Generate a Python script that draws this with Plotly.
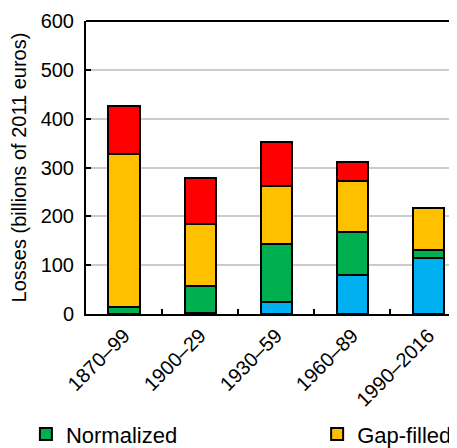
import plotly.graph_objects as go

categories = ["1870–99", "1900–29", "1930–59", "1960–89", "1990–2016"]
blue_vals = [0, 3, 25, 80, 115]
normalized_vals = [14, 55, 119, 87, 17]
gapfilled_vals = [314, 127, 118, 106, 86]
red_vals = [97, 93, 90, 38, 0]
y_ticks = [0, 100, 200, 300, 400, 500, 600]

FONT = "Liberation Sans, Arial, sans-serif"
line = dict(color="black", width=2)

fig = go.Figure()
fig.add_bar(x=categories, y=blue_vals, name="Reported", marker=dict(color="#00b0f0", line=line), showlegend=False)
fig.add_bar(x=categories, y=normalized_vals, name="Normalized", marker=dict(color="#00b050", line=line),
            legend="legend")
fig.add_bar(x=categories, y=gapfilled_vals, name="Gap-filled", marker=dict(color="#ffc000", line=line),
            legend="legend2")
fig.add_bar(x=categories, y=red_vals, name="Other", marker=dict(color="#ff0000", line=line), showlegend=False)

legend_common = dict(orientation="h", xanchor="left", y=-0.41, yanchor="middle",
                     font=dict(size=22), bgcolor="rgba(0,0,0,0)")
fig.update_layout(
    barmode="stack",
    bargap=0.59,
    width=449, height=440,
    margin=dict(l=78, r=0, t=13, b=133.5, autoexpand=False),
    plot_bgcolor="white", paper_bgcolor="white",
    font=dict(family=FONT, size=20, color="black"),
    legend=dict(x=-0.162, **legend_common),
    legend2=dict(x=0.623, **legend_common),
    shapes=[dict(type="line", xref="paper", yref="paper", x0=0, x1=1, y0=1, y1=1,
                 line=dict(color="black", width=2))],
)
fig.update_xaxes(range=[-0.5, 4.375], showline=True, linecolor="black", linewidth=2,
                 ticks="inside", tickson="boundaries", ticklen=5, tickwidth=1.5, tickcolor="black",
                 tickangle=-45, showgrid=False)
fig.update_yaxes(range=[0, 600], tickvals=y_ticks, showline=True, linecolor="black", linewidth=2,
                 ticks="inside", ticklen=5, tickwidth=1.5, tickcolor="black",
                 ticklabelstandoff=6,
                 showgrid=True, gridcolor="#cccccc", gridwidth=1.5,
                 title=dict(text="Losses (billions of 2011 euros)", font=dict(size=20), standoff=14),
                 zeroline=False)

fig.write_html("out.html")
